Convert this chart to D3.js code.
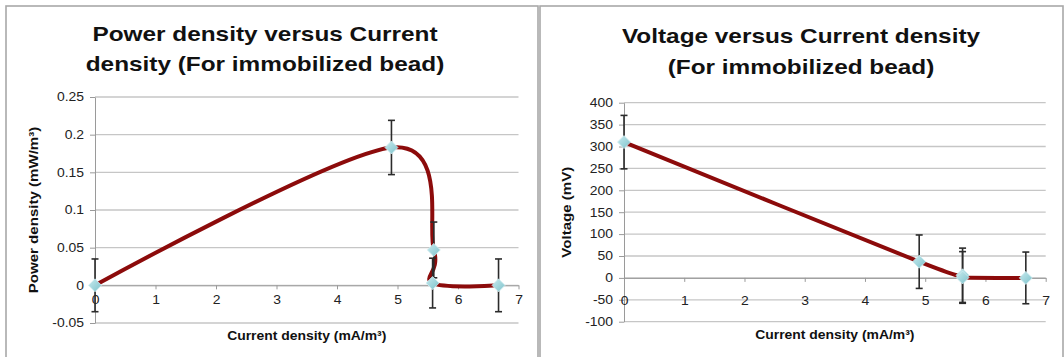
<!DOCTYPE html>
<html>
<head>
<meta charset="utf-8">
<script src="https://cdn.jsdelivr.net/npm/d3@7"></script>
<style>
	body { margin: 0; background: #fff; }
	text { font-family: "Liberation Sans", Arial, sans-serif; }
</style>
</head>
<body>
<svg id="chart" width="1064" height="357"></svg>
<script>
// power density chart
let powerX = [0, 4.9, 5.6, 5.58, 6.67];
let powerY = [0, 0.183, 0.047, 0.003, 0];
let powerErr = [0.035, 0.036, 0.037, 0.033, 0.035];
let powerTicks = [-0.05, 0, 0.05, 0.1, 0.15, 0.2, 0.25];

// voltage chart
let voltX = [0, 4.9, 5.62, 5.62, 6.67];
let voltY = [310, 37, 6, 1, 0];
let voltErr = [61, 61, 62, 59, 59];
let voltTicks = [-100, -50, 0, 50, 100, 150, 200, 250, 300, 350, 400];

let currentTicks = [0, 1, 2, 3, 4, 5, 6, 7];

// the picture is a bit wider than its font
let sx = 1.16;

let svg = d3.select('#chart');

let grad = svg.append('defs').append('linearGradient')
	.attr('id', 'marker-fill')
	.attr('x1', 0).attr('y1', 0).attr('x2', 1).attr('y2', 1);
grad.append('stop').attr('offset', '0%').attr('stop-color', '#c9ebef');
grad.append('stop').attr('offset', '100%').attr('stop-color', '#7dc2cb');

function wideText(g, x, y, str, size, bold, anchor, rot) {
	return g.append('text')
		.attr('transform', 'translate(' + x + ',' + y + ')' + (rot ? ' rotate(' + rot + ')' : '') + ' scale(' + sx + ',1)')
		.attr('text-anchor', anchor || 'middle')
		.style('font-size', size + 'px')
		.style('font-weight', bold ? 'bold' : 'normal')
		.attr('fill', '#111')
		.text(str);
}

function drawPanel(p) {
	let g = svg.append('g');

	g.append('rect')
		.attr('x', p.frame[0]).attr('y', 6)
		.attr('width', p.frame[1] - p.frame[0]).attr('height', 380)
		.attr('fill', '#fff')
		.attr('stroke', '#a8a8a8')
		.attr('stroke-width', 1.6);

	p.title.forEach(function(t, i) {
		wideText(g, p.titleX, p.titleY[i], t, 21, true);
	});

	let x = d3.scaleLinear().domain([0, 7]).range(p.xRange);
	let y = d3.scaleLinear().domain(p.yDomain).range(p.yRange);

	g.append('g').selectAll('line')
		.data(p.yTicks)
		.enter()
		.append('line')
		.attr('x1', p.xRange[0]).attr('x2', p.xRange[1])
		.attr('y1', d => y(d)).attr('y2', d => y(d))
		.attr('stroke', '#c6c6c6')
		.attr('stroke-width', 1.3);

	let ya = g.append('g')
		.attr('transform', 'translate(' + p.xRange[0] + ',0)')
		.call(d3.axisLeft(y).tickValues(p.yTicks).tickSize(5).tickSizeOuter(0).tickFormat(d => String(d)));
	ya.selectAll('text')
		.attr('x', 0)
		.attr('transform', 'translate(-11,0) scale(' + sx + ',1)')
		.style('font-size', '12px')
		.style('font-family', '"Liberation Sans", Arial, sans-serif')
		.attr('fill', '#222');

	let xa = g.append('g')
		.attr('transform', 'translate(0,' + y(0) + ')')
		.call(d3.axisBottom(x).tickValues(currentTicks).tickSize(4).tickSizeOuter(0).tickFormat(d => String(d)));
	xa.selectAll('text')
		.attr('y', p.xLabelOffset)
		.attr('dy', '0.35em')
		.attr('transform', 'scale(' + sx + ',1)')
		.style('font-size', '12px')
		.style('font-family', '"Liberation Sans", Arial, sans-serif')
		.attr('fill', '#222');

	g.selectAll('.domain, .tick line').attr('stroke', '#9a9a9a');

	wideText(g, (p.xRange[0] + p.xRange[1]) / 2, p.xTitleY, 'Current density (mA/m³)', 12, true);
	wideText(g, p.yTitleX, (p.yRange[0] + p.yRange[1]) / 2, p.yTitle, 13, true, 'middle', -90);

	let pts = p.xs.map((v, i) => ({ x: v, y: p.ys[i], e: p.errs[i] }));

	let line = d3.line()
		.x(d => x(d.x))
		.y(d => y(d.y))
		.curve(d3.curveCardinal.tension(0));

	g.append('path')
		.attr('d', line(pts))
		.attr('fill', 'none')
		.attr('stroke', '#8c0b0b')
		.attr('stroke-width', 4)
		.attr('stroke-linejoin', 'round');

	let bars = g.append('g')
		.attr('stroke', '#2b2b2b')
		.attr('stroke-width', 1.6);
	pts.forEach(function(d) {
		let cx = x(d.x), top = y(d.y + d.e), bot = y(d.y - d.e);
		bars.append('line').attr('x1', cx).attr('x2', cx).attr('y1', top).attr('y2', bot);
		bars.append('line').attr('x1', cx - 3.5).attr('x2', cx + 3.5).attr('y1', top).attr('y2', top);
		bars.append('line').attr('x1', cx - 3.5).attr('x2', cx + 3.5).attr('y1', bot).attr('y2', bot);
	});

	g.append('g').selectAll('path')
		.data(pts)
		.enter()
		.append('path')
		.attr('d', 'M0,-6.5L6.5,0L0,6.5L-6.5,0Z')
		.attr('transform', d => 'translate(' + x(d.x) + ',' + y(d.y) + ')')
		.attr('fill', 'url(#marker-fill)')
		.attr('stroke', '#d2eef1')
		.attr('stroke-width', 0.8);
}

drawPanel({
	frame: [6, 538],
	title: ['Power density versus Current', 'density (For immobilized bead)'],
	titleX: 265,
	titleY: [41, 71],
	xRange: [95, 518.5],
	yDomain: [-0.05, 0.25],
	yRange: [323, 97],
	yTicks: powerTicks,
	xs: powerX, ys: powerY, errs: powerErr,
	xLabelOffset: 14,
	xTitleY: 340,
	yTitle: 'Power density (mW/m³)',
	yTitleX: 38
});

drawPanel({
	frame: [540, 1063],
	title: ['Voltage versus Current density', '(For immobilized bead)'],
	titleX: 801,
	titleY: [43, 74],
	xRange: [624, 1045.7],
	yDomain: [-100, 400],
	yRange: [321.7, 102.7],
	yTicks: voltTicks,
	xs: voltX, ys: voltY, errs: voltErr,
	xLabelOffset: 22.5,
	xTitleY: 339,
	yTitle: 'Voltage (mV)',
	yTitleX: 571
});
</script>
</body>
</html>
